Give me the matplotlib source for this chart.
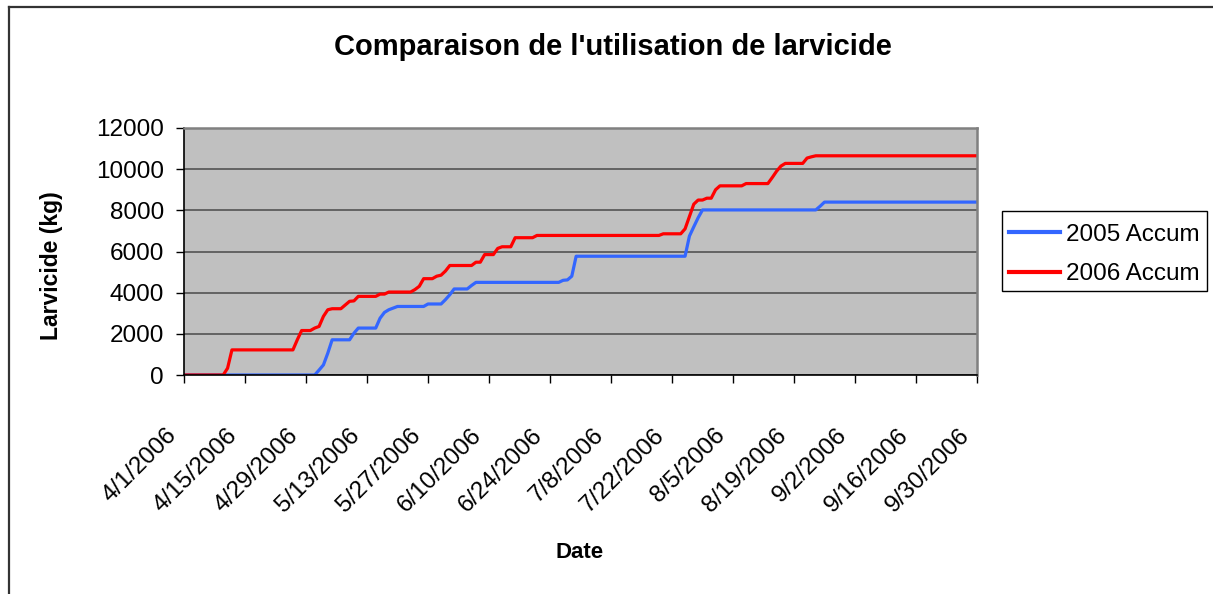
import matplotlib
matplotlib.use("Agg")
import matplotlib.pyplot as plt
import matplotlib.transforms as mtransforms
from matplotlib.lines import Line2D
from matplotlib.patches import Rectangle
import pandas as pd

plt.rcParams['font.family'] = ['Liberation Sans', 'DejaVu Sans']

title = "Comparaison de l'utilisation de larvicide"
x_label = "Date"
y_label = "Larvicide (kg)"
series_names = ["2005 Accum", "2006 Accum"]
series_colors = ["#3366FF", "#FF0000"]

dates_2005 = ["4/1", "5/1", "5/2", "5/3", "5/4", "5/5", "5/9", "5/10", "5/11", "5/15",
              "5/16", "5/17", "5/18", "5/19", "5/20", "5/26", "5/27", "5/30", "5/31", "6/1",
              "6/2", "6/5", "6/6", "6/7", "6/26", "6/27", "6/28", "6/29", "6/30", "7/25",
              "7/26", "7/27", "7/28", "7/29", "8/24", "8/25", "8/26", "9/30"]
accum_2005 = [0, 0, 240, 490, 1060, 1710, 1710, 2030, 2280, 2280,
              2760, 3040, 3170, 3250, 3330, 3330, 3450, 3450, 3660, 3900,
              4180, 4180, 4350, 4500, 4500, 4600, 4620, 4800, 5770, 5770,
              6750, 7200, 7640, 8020, 8020, 8200, 8400, 8400]

dates_2006 = ["4/1", "4/10", "4/11", "4/12", "4/26", "4/27", "4/28", "4/30", "5/1", "5/2",
              "5/3", "5/4", "5/5", "5/7", "5/8", "5/9", "5/10", "5/11", "5/15", "5/16",
              "5/17", "5/18", "5/23", "5/24", "5/25", "5/26", "5/28", "5/29", "5/30", "5/31",
              "6/1", "6/6", "6/7", "6/8", "6/9", "6/11", "6/12", "6/13", "6/15", "6/16",
              "6/20", "6/21", "7/19", "7/20", "7/24", "7/25", "7/26", "7/27", "7/28", "7/29",
              "7/30", "7/31", "8/1", "8/2", "8/7", "8/8", "8/13", "8/14", "8/15", "8/16",
              "8/17", "8/21", "8/22", "8/23", "8/24", "9/30"]
accum_2006 = [0, 0, 330, 1220, 1220, 1710, 2160, 2160, 2280, 2360,
              2850, 3170, 3220, 3220, 3400, 3580, 3600, 3820, 3820, 3930,
              3930, 4030, 4030, 4150, 4310, 4680, 4680, 4800, 4850, 5050,
              5320, 5320, 5480, 5480, 5850, 5850, 6150, 6230, 6230, 6670,
              6670, 6780, 6780, 6860, 6860, 7100, 7700, 8300, 8500, 8500,
              8590, 8590, 9000, 9190, 9190, 9300, 9300, 9590, 9900, 10150,
              10280, 10280, 10540, 10600, 10650, 10650]

x_tick_labels = ["4/1/2006", "4/15/2006", "4/29/2006", "5/13/2006", "5/27/2006",
                 "6/10/2006", "6/24/2006", "7/8/2006", "7/22/2006", "8/5/2006",
                 "8/19/2006", "9/2/2006", "9/16/2006", "9/30/2006"]
y_ticks = [0, 2000, 4000, 6000, 8000, 10000, 12000]


def to_dt(lst):
    return pd.to_datetime([d + "/2006" for d in lst], format="%m/%d/%Y")


W, H = 1213, 594
fig = plt.figure(figsize=(W / 100, H / 100), dpi=100)
fig.patch.set_facecolor("white")


def fx(px):
    return px / W


def fy(py):
    return 1 - py / H


# outer chart border (top and left visible)
fig.add_artist(Line2D([fx(9), 1.0], [fy(7), fy(7)], color="#333333", lw=1.6,
                      transform=fig.transFigure))
fig.add_artist(Line2D([fx(9), fx(9)], [0, fy(7)], color="#333333", lw=1.6,
                      transform=fig.transFigure))

left, right, top, bottom = 184, 977, 128, 375
ax = fig.add_axes([fx(left), fy(bottom), (right - left) / W, (bottom - top) / H])
ax.set_facecolor("#C0C0C0")

ax.plot(to_dt(dates_2005), accum_2005, color=series_colors[0], lw=2.3,
        solid_joinstyle="round")
ax.plot(to_dt(dates_2006), accum_2006, color=series_colors[1], lw=2.3,
        solid_joinstyle="round")

ax.set_xlim(pd.Timestamp("2006-04-01"), pd.Timestamp("2006-09-30"))
ax.set_ylim(0, 12000)
ax.set_yticks(y_ticks)
ax.set_yticklabels([str(v) for v in y_ticks])
ax.set_xticks(to_dt([l.rsplit("/", 1)[0] for l in x_tick_labels]))
ax.set_xticklabels(x_tick_labels)

ax.yaxis.grid(True, color="#4a4a4a", lw=1.1)
ax.set_axisbelow(True)

for s in ["top", "right"]:
    ax.spines[s].set_color("#808080")
    ax.spines[s].set_linewidth(1.8)
for s in ["left", "bottom"]:
    ax.spines[s].set_color("black")
    ax.spines[s].set_linewidth(1.2)

ax.tick_params(axis="y", direction="out", length=6, width=1, pad=8.5, labelsize=17.5)
ax.tick_params(axis="x", direction="out", length=6, width=1, pad=35, labelsize=17.5)

offset = mtransforms.ScaledTranslation(-11 / 100, 0, fig.dpi_scale_trans)
for lab in ax.get_xticklabels():
    lab.set_rotation(45)
    lab.set_ha("right")
    lab.set_va("center")
    lab.set_rotation_mode("anchor")
    lab.set_transform(lab.get_transform() + offset)

fig.text(fx(613), fy(47), title, ha="center", va="center", fontsize=21,
         fontweight="bold")
fig.text(fx(52), fy(266), y_label, ha="center", va="center", fontsize=16.5,
         fontweight="bold", rotation=90)
fig.text(fx(580), fy(553), x_label, ha="center", va="center", fontsize=16,
         fontweight="bold")

# legend box drawn in figure pixels
fig.add_artist(Rectangle((fx(1001.5), fy(290.5)), (1207 - 1001.5) / W, (290.5 - 211) / H,
                         transform=fig.transFigure, facecolor="white",
                         edgecolor="black", lw=1.0))
for i, (name, col) in enumerate(zip(series_names, series_colors)):
    yc = 232.3 + i * 39.4
    fig.add_artist(Line2D([fx(1009), fx(1060)], [fy(yc), fy(yc)], color=col, lw=3,
                          transform=fig.transFigure))
    fig.text(fx(1066), fy(yc), name, ha="left", va="center_baseline", fontsize=17.5)

fig.savefig("out.png", dpi=100)
